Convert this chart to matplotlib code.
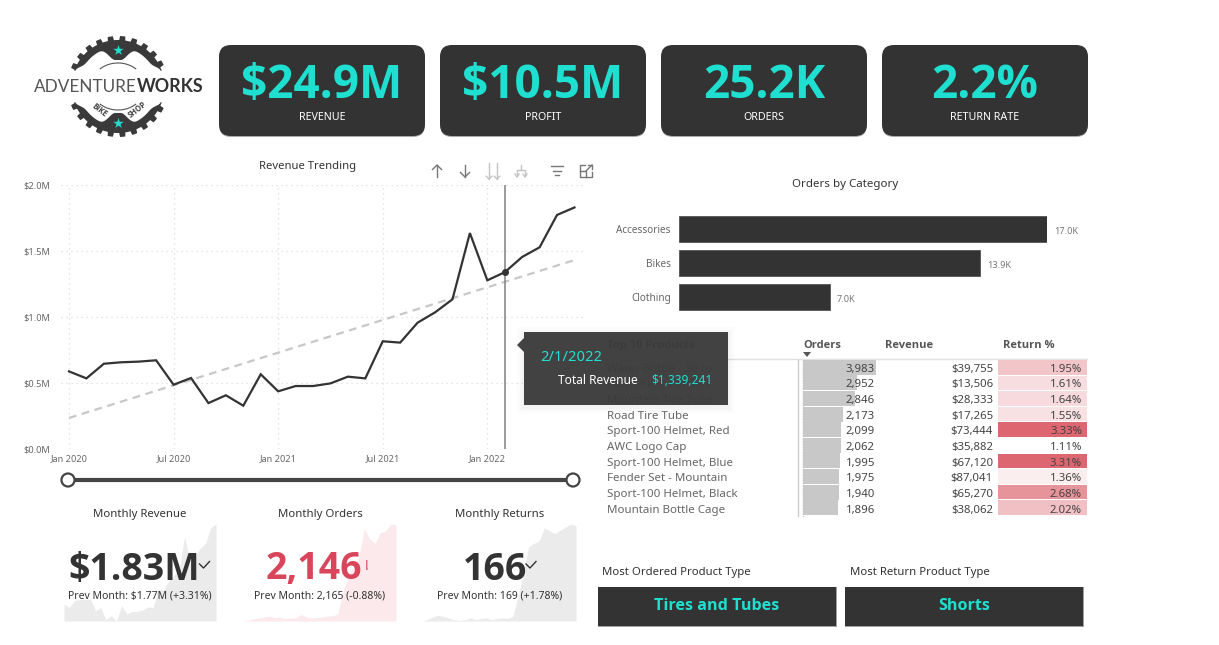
import numpy as np
import matplotlib
matplotlib.use("Agg")
import matplotlib.pyplot as plt
from matplotlib import font_manager as fm
from matplotlib.patches import FancyBboxPatch, Rectangle, Polygon, Circle

plt.rcParams['font.family'] = ['Noto Sans', 'DejaVu Sans']


def pick_bold():
    for fam in ['Noto Sans', 'Open Sans', 'Roboto', 'Lato', 'Liberation Sans']:
        for entry in fm.fontManager.ttflist:
            w = entry.weight
            if entry.name == fam and ((isinstance(w, int) and w >= 700) or w == 'bold'):
                return fam
    return 'DejaVu Sans'


BOLD = pick_bold()

W, H = 1219, 645
DARK = '#333333'
TEAL = '#1FE0D0'
RED = '#D9455A'

kpi_values = ['$24.9M', '$10.5M', '25.2K', '2.2%']
kpi_labels = ['REVENUE', 'PROFIT', 'ORDERS', 'RETURN RATE']

month_labels = ['Jan 2020', 'Jul 2020', 'Jan 2021', 'Jul 2021', 'Jan 2022']
month_label_idx = [0, 6, 12, 18, 24]
revenue = [0.588, 0.535, 0.646, 0.657, 0.662, 0.672, 0.487, 0.538, 0.348, 0.407,
           0.328, 0.566, 0.437, 0.477, 0.477, 0.497, 0.548, 0.535, 0.816, 0.806,
           0.957, 1.035, 1.134, 1.636, 1.278, 1.339, 1.455, 1.528, 1.773, 1.830]
trend_idx = [0, 28.9]
trend_val = [0.235, 1.427]
monthly_orders = [200, 220, 241, 261, 282, 296, 268, 282, 248, 268, 255, 336, 282, 261, 268,
                  282, 302, 302, 350, 828, 1100, 1305, 1510, 2056, 1865, 1769, 1988, 2022, 2165, 2146]
monthly_returns = [15, 18, 22, 24, 22, 19, 17, 16, 17, 20, 17, 19, 20, 17, 19,
                   20, 19, 22, 53, 90, 133, 138, 142, 163, 158, 154, 159, 164, 169, 166]

categories = ['Accessories', 'Bikes', 'Clothing']
category_orders = [17.0, 13.9, 6.96]

products = ['Water Bottle - 30 oz.', 'Patch Kit/8 Patches', 'Mountain Tire Tube', 'Road Tire Tube',
            'Sport-100 Helmet, Red', 'AWC Logo Cap', 'Sport-100 Helmet, Blue', 'Fender Set - Mountain',
            'Sport-100 Helmet, Black', 'Mountain Bottle Cage']
product_orders = [3983, 2952, 2846, 2173, 2099, 2062, 1995, 1975, 1940, 1896]
product_revenue = [39755, 13506, 28333, 17265, 73444, 35882, 67120, 87041, 65270, 38062]
product_return = [1.95, 1.61, 1.64, 1.55, 3.33, 1.11, 3.31, 1.36, 2.68, 2.02]

fig = plt.figure(figsize=(W / 100, H / 100), dpi=100, facecolor='white')


def px_axes(l, t, r, b, z=1):
    ax = fig.add_axes([l / W, 1 - b / H, (r - l) / W, (b - t) / H], zorder=z)
    ax.patch.set_alpha(0)
    return ax


bg = px_axes(0, 0, W, H, 0)
bg.set_xlim(0, W)
bg.set_ylim(H, 0)
bg.axis('off')

top = px_axes(0, 0, W, H, 20)
top.set_xlim(0, W)
top.set_ylim(H, 0)
top.axis('off')


# ---------- logo ----------
def crescent(sign):
    deg = np.linspace(20, 160, 700)
    th = np.radians(deg)
    wave = np.sin(th * 25.5 + 1.57)
    teeth = 46.5 + 4.0 * np.clip((wave + 0.1) * 3, 0, 1)
    xo = 118 + teeth * np.cos(th)
    yo = 86.5 - sign * teeth * np.sin(th)
    rin = 39.5 - 13 * np.exp(-((deg - 90) / 19) ** 4)
    rin = rin + 6 * np.exp(-((deg - 20) / 9) ** 2) + 6 * np.exp(-((deg - 160) / 9) ** 2)
    xi = 118 + rin * np.cos(th)
    yi = 86.5 - sign * rin * np.sin(th)
    pts = np.vstack([np.column_stack([xo, yo]), np.column_stack([xi, yi])[::-1]])
    bg.add_patch(Polygon(pts, closed=True, fc='#3A3A3A', ec='none'))


crescent(1)
crescent(-1)
for sgn in (1, -1):
    th = np.radians(np.linspace(48, 132, 40))
    bg.plot(118 + 26.5 * np.cos(th), 86.5 - sgn * (22.5 * np.sin(th) + 1),
            color='#555555', lw=0.8)
bg.scatter([118, 118], [50, 123], marker='*', s=62, color=TEAL, zorder=3, lw=0)
bg.text(137, 87, 'ADVENTURE', ha='right', va='center', fontsize=12.3, color='#555555',
        family=['Lato', 'DejaVu Sans'])
bg.text(137, 87, 'WORKS', ha='left', va='center', fontsize=12.9, color='#333333',
        family=['Lato', 'DejaVu Sans'], fontweight='bold')
bg.text(100, 110, 'BIKE', ha='center', va='center', rotation=-38, fontsize=5.5,
        fontweight='bold', family=BOLD, color='#444444')
bg.text(137, 110, 'SHOP', ha='center', va='center', rotation=38, fontsize=5.5,
        fontweight='bold', family=BOLD, color='#444444')

# ---------- KPI cards ----------
card_lefts = [219, 440, 661, 882]
for x0, v, lab in zip(card_lefts, kpi_values, kpi_labels):
    bg.add_patch(FancyBboxPatch((x0 + 12, 45 + 12), 206 - 24, 91 - 24, boxstyle='round,pad=12,rounding_size=12',
                                fc='#AAAAAA', ec='none', transform=bg.transData + matplotlib.transforms.Affine2D().translate(0, -1)))
    bg.add_patch(FancyBboxPatch((x0 + 12, 45 + 12), 206 - 24, 91 - 24, boxstyle='round,pad=12,rounding_size=12',
                                fc=DARK, ec='none'))
    bg.text(x0 + 103, 86, v, ha='center', va='center', fontsize=33, fontweight='bold', family=BOLD, color=TEAL)
    bg.text(x0 + 103, 118, lab, ha='center', va='center', fontsize=7.7, color='white')

# ---------- revenue trending ----------
bg.text(308, 167, 'Revenue Trending', ha='center', va='center', fontsize=8.1, color='#333333')
ax = px_axes(61, 185, 583, 449, 3)
x0_idx = (61 - 69) / 17.43
ax.set_xlim(x0_idx, x0_idx + (583 - 61) / 17.43)
ax.set_ylim(0, 2.0)
ax.set_xticks(month_label_idx)
ax.set_xticklabels(month_labels, fontsize=6.6, color='#666666')
ax.set_yticks([0, 0.5, 1.0, 1.5, 2.0])
ax.set_yticklabels(['$0.0M', '$0.5M', '$1.0M', '$1.5M', '$2.0M'], fontsize=6.6, color='#666666')
ax.tick_params(length=0, pad=4)
ax.tick_params(axis='y', pad=7.5)
ax.grid(True, color='#DDDDDD', linestyle=(0, (1, 3)), lw=0.9)
ax.set_axisbelow(True)
for s in ax.spines.values():
    s.set_visible(False)
months = np.arange(len(revenue))
ax.plot(trend_idx, trend_val, color='#C8C8C8', lw=1.6, linestyle=(0, (3.5, 2.5)))
ax.plot(months, revenue, color=DARK, lw=1.6, solid_joinstyle='miter')
ax.axvline(25, color='#8A8A8A', lw=1.2)
ax.plot([25], [revenue[25]], 'o', color=DARK, ms=4)

# slider
bg.plot([68, 573], [480, 480], color='#444444', lw=3, solid_capstyle='butt')
for sx in (68, 573):
    bg.add_patch(Circle((sx, 480), 6.5, fc='white', ec='#444444', lw=1.6, zorder=4))

# toolbar icons
ICON = '#777777'
ICON_L = '#C4C4C4'


def arrow(a, x, up, color, head=4.5, y0=165, y1=177):
    a.plot([x, x], [y0, y1], color=color, lw=1)
    if up:
        a.plot([x - head, x, x + head], [y0 + head, y0, y0 + head], color=color, lw=1)
    else:
        a.plot([x - head, x, x + head], [y1 - head, y1, y1 - head], color=color, lw=1)


arrow(bg, 437, True, ICON)
arrow(bg, 465, False, ICON)
arrow(bg, 489, False, ICON_L, head=2.8, y0=163, y1=179)
arrow(bg, 497, False, ICON_L, head=2.8, y0=163, y1=179)
bg.plot([521, 521], [165, 170], color=ICON_L, lw=1)
bg.plot([517, 517, 525, 525], [176, 170, 170, 176], color=ICON_L, lw=1)
bg.plot([515, 517, 519], [174, 177, 174], color=ICON_L, lw=1)
bg.plot([523, 525, 527], [174, 177, 174], color=ICON_L, lw=1)
for half, yy in zip((6, 4, 2), (166, 170.5, 175)):
    bg.plot([557 - half, 557 + half], [yy, yy], color=ICON, lw=1)
bg.plot([585, 580, 580, 592, 592], [165, 165, 177, 177, 172], color=ICON, lw=1)
bg.plot([580, 586, 586], [171, 171, 177], color=ICON, lw=1)
bg.plot([586, 592], [171, 165], color=ICON, lw=1)
bg.plot([588, 592, 592], [165, 165, 169], color=ICON, lw=1)

# ---------- KPI spark cards ----------
spark_defs = [(64, 216, revenue, '#EBEBEB'), (243, 396, monthly_orders, '#FBE9EB'), (423, 576, monthly_returns, '#EBEBEB')]
for l, r, series, col in spark_defs:
    s_ax = px_axes(l, 524, r, 621, 2)
    s_ax.fill_between(np.arange(len(series)), series, min(series), color=col, lw=0)
    s_ax.set_xlim(0, len(series) - 1)
    s_ax.set_ylim(min(series), max(series))
    s_ax.axis('off')

cards = [(140, 'Monthly Revenue', 134, '$1.83M', DARK, 'Prev Month: $1.77M (+3.31%)', 140),
         (320, 'Monthly Orders', 314, '2,146', RED, 'Prev Month: 2,165 (-0.88%)', 319.5),
         (500, 'Monthly Returns', 495, '166', DARK, 'Prev Month: 169 (+1.78%)', 500)]
for tx, title, vx, val, col, prev, px in cards:
    top.text(tx, 514, title, ha='center', va='center', fontsize=8.2, color='#333333')
    top.text(vx, 569.5, val, ha='center', va='center', fontsize=27, fontweight='bold', family=BOLD, color=col)
    top.text(px, 595.5, prev, ha='center', va='center', fontsize=7.5, color='#333333')
for cx in (204.5, 531):
    top.plot([cx - 5, cx - 1, cx + 5], [564, 568, 561.5], color='#333333', lw=1)
top.text(367, 566, '!', ha='center', va='center', fontsize=10, color=RED)

# ---------- orders by category ----------
bg.text(845, 185, 'Orders by Category', ha='center', va='center', fontsize=8.3, color='#333333')
bar_ax = px_axes(679, 212, 1047, 314, 3)
ypos = np.arange(len(categories))
bar_ax.barh(ypos, category_orders, height=26 / 34, color=DARK, edgecolor='#555555', lw=0.6)
bar_ax.set_xlim(0, 17.0)
bar_ax.set_ylim(2.5, -0.5)
bar_ax.set_yticks(ypos)
bar_ax.set_yticklabels(categories, fontsize=7.2, color='#666666')
bar_ax.tick_params(length=0, pad=5.8)
bar_ax.set_xticks([])
for s in bar_ax.spines.values():
    s.set_visible(False)
for y, v in zip(ypos, category_orders):
    bar_ax.annotate(f'{v:.1f}K', (v, y), xytext=(5, -1.5), textcoords='offset points',
                    va='center', ha='left', fontsize=6.6, color='#777777', annotation_clip=False)

# ---------- table ----------
tbl = px_axes(600, 361.5, 1090, 518, 4)
tbl.set_xlim(600, 1090)
tbl.set_ylim(9.5, -0.5)
tbl.axis('off')
TXT = '#666666'
for hx, hd in [(607, 'Top 10 Products'), (803, 'Orders'), (885, 'Revenue'), (1003, 'Return %')]:
    bg.text(hx, 345.5, hd, ha='left', va='center', fontsize=8, fontweight='bold', family=BOLD, color='#555555')
bg.add_patch(Polygon([[803, 352], [811, 352], [807, 357]], closed=True, fc='#555555', ec='none'))
bg.plot([607, 1087], [358.5, 358.5], color='#E0E0E0', lw=1)
bg.plot([797.5, 797.5], [360, 516], color='#CCCCCC', lw=1)
bg.plot([802.5, 802.5], [360, 516], color='#888888', lw=1, linestyle=(0, (1, 1)))

ord_ax = px_axes(803, 359.5, 876, 515.5, 3)
rows = np.arange(len(products))
ord_ax.barh(rows, product_orders, height=0.97, color='#C8C8C8')
ord_ax.set_xlim(0, max(product_orders))
ord_ax.set_ylim(9.5, -0.5)
ord_ax.axis('off')

ret_ax = px_axes(998, 359.5, 1087, 515.5, 3)
lo, hi = min(product_return), max(product_return)
low_rgb, high_rgb = np.array([1, 1, 1]), np.array([0xDD, 0x66, 0x70]) / 255
ret_colors = [tuple(low_rgb + (v - lo) / (hi - lo) * (high_rgb - low_rgb)) for v in product_return]
ret_ax.barh(rows, [1] * len(rows), height=0.94, color=ret_colors)
ret_ax.set_xlim(0, 1)
ret_ax.set_ylim(9.5, -0.5)
ret_ax.axis('off')

for i, (p, o, rv, rt) in enumerate(zip(products, product_orders, product_revenue, product_return)):
    tbl.text(607, i, p, ha='left', va='center', fontsize=8.3, color=TXT)
    tbl.text(875, i, f'{o:,}', ha='right', va='center', fontsize=8.2, color='#444444')
    tbl.text(993, i, f'${rv:,}', ha='right', va='center', fontsize=8.2, color='#444444')
    tbl.text(1082, i, f'{rt:.2f}%', ha='right', va='center', fontsize=8.2, color='#444444')

# ---------- bottom cards ----------
for l, r, title, val, tx in [(598, 836, 'Most Ordered Product Type', 'Tires and Tubes', 602),
                             (845, 1083, 'Most Return Product Type', 'Shorts', 850)]:
    bg.add_patch(Rectangle((l, 587), r - l + 1, 40, fc='#A0A0A0', ec='none'))
    bg.add_patch(Rectangle((l, 587), r - l, 39, fc=DARK, ec='none'))
    bg.text((l + r) / 2, 606.5, val, ha='center', va='center', fontsize=11.6, fontweight='bold', family=BOLD, color=TEAL)
    bg.text(tx, 573, title, ha='left', va='center', fontsize=8.2, color='#333333')

# ---------- tooltip ----------
for grow, a in [(7, 0.012), (4, 0.015), (2, 0.02)]:
    top.add_patch(Rectangle((524 - grow, 332 - grow + 2), 204 + 2 * grow, 73 + 2 * grow, fc='black', ec='none', alpha=a))
top.add_patch(Rectangle((524, 332), 204, 73, fc='#3B3B3B', ec='none', alpha=0.96))
top.add_patch(Polygon([[524, 338], [517, 345], [524, 352]], closed=True, fc='#3B3B3B', ec='none', alpha=0.96))
top.text(540, 357.5, '2/1/2022', ha='left', va='center', fontsize=10.6, color=TEAL)
top.text(558, 380, 'Total Revenue', ha='left', va='center', fontsize=8.6, color='white')
top.text(651, 380, '$1,339,241', ha='left', va='center', fontsize=8.6, color=TEAL)

fig.savefig('out.png', dpi=100, facecolor='white')
